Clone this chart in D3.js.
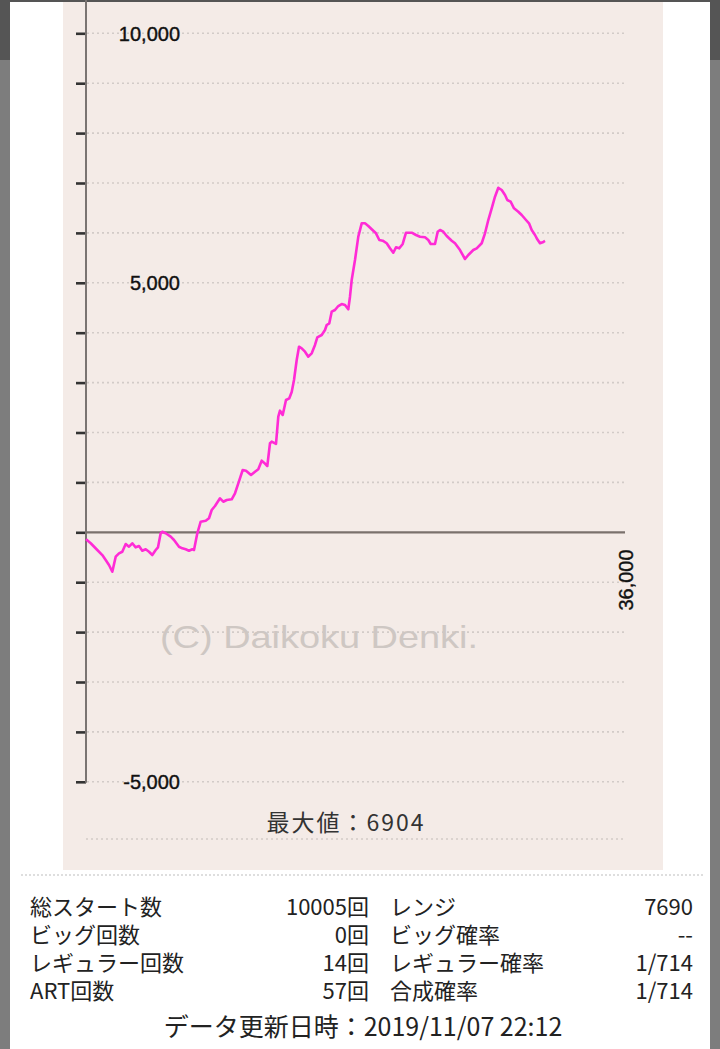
<!DOCTYPE html>
<html>
<head>
<meta charset="utf-8">
<script src="https://cdn.jsdelivr.net/npm/d3@7/dist/d3.min.js"></script>
<style>
  html, body { margin: 0; padding: 0; background: #fff; }
  svg { display: block; }
</style>
</head>
<body>
<svg id="chart" width="720" height="1049"></svg>
<script>
// ---- data ----
const xGames = [0,314,755,1089,1316,1536,1757,1984,2204,2424,2652,2872,3092,3320,3540,3760,3987,4208,4428,4655,4809,4989,5096,5323,5657,5878,6211,6432,6659,6879,7100,7213,7434,7661,7995,8215,8396,8616,8950,9170,9398,9732,9952,10172,10466,10686,11020,11288,11508,11735,11889,12109,12289,12403,12690,12844,12957,13138,13358,13579,13739,13893,14073,14227,14407,14627,14848,15075,15295,15449,15743,15963,16077,16250,16410,16631,16851,17078,17298,17519,17632,17746,17966,18187,18414,18634,18855,19082,19369,19590,19817,20084,20304,20525,20705,20926,21153,21373,21754,22041,22308,22642,22862,23023,23310,23490,23644,23864,24091,24425,24646,24980,25314,25534,25868,26095,26429,26649,26870,27097,27317,27538,27765,27986,28139,28366,28587,28874,29101,29388,29589,29769,29990,30143,30323,30504,30657];
const yMedals = [-140,-220,-355,-456,-556,-656,-790,-489,-421,-389,-234,-289,-220,-301,-275,-369,-341,-389,-455,-355,-301,-20,12,-20,-88,-154,-289,-321,-341,-369,-341,-355,-20,212,232,281,447,527,681,613,647,661,782,982,1248,1234,1148,1214,1263,1435,1395,1329,1784,1816,1770,2317,2437,2351,2651,2685,2812,3052,3453,3719,3687,3619,3519,3587,3754,3908,3954,4054,4154,4188,4421,4455,4535,4575,4555,4469,4721,5056,5457,5924,6192,6192,6138,6072,5992,5858,5844,5792,5691,5603,5711,5691,5778,6004,6004,5958,5924,5912,5858,5778,5778,6024,6058,6024,5938,5844,5792,5657,5477,5557,5657,5691,5792,5992,6258,6493,6726,6904,6860,6760,6659,6625,6493,6425,6359,6259,6192,6058,5958,5872,5792,5812,5838];
const yTickValues = [-5000,-4000,-3000,-2000,-1000,0,1000,2000,3000,4000,5000,6000,7000,8000,9000,10000];
const yLabelValues = [10000, 5000, -5000];
const xMax = 36000;
const xLabel = "36,000";
const maxLabel = "最大値：6904";
const watermark = "(C) Daikoku Denki.";
const tableRows = [
  ["総スタート数", "10005回", "レンジ", "7690"],
  ["ビッグ回数", "0回", "ビッグ確率", "--"],
  ["レギュラー回数", "14回", "レギュラー確率", "1/714"],
  ["ART回数", "57回", "合成確率", "1/714"]
];
const footer = "データ更新日時：2019/11/07 22:12";

// ---- drawing ----
const svg = d3.select("#chart");

// page frame
svg.append("rect").attr("x",0).attr("y",0).attr("width",720).attr("height",1049).attr("fill","#fff");
svg.append("rect").attr("x",0).attr("y",0).attr("width",10).attr("height",1049).attr("fill","#7d7d7d");
svg.append("rect").attr("x",0).attr("y",0).attr("width",10).attr("height",60).attr("fill","#555");
svg.append("rect").attr("x",710).attr("y",0).attr("width",10).attr("height",1049).attr("fill","#7d7d7d");
svg.append("rect").attr("x",710).attr("y",0).attr("width",10).attr("height",60).attr("fill","#555");
svg.append("rect").attr("x",0).attr("y",0).attr("width",720).attr("height",2).attr("fill","#555");

// chart panel
svg.append("rect").attr("x",63).attr("y",2).attr("width",600).attr("height",868).attr("fill","#f4ebe7");

const x = d3.scaleLinear().domain([0, xMax]).range([86, 625]);
const y = d3.scaleLinear().domain([-5000, 10000]).range([781.8, 33.3]);

const labelFont = "'Liberation Sans', Arial, sans-serif";
const cjk = "'Noto Sans CJK JP', 'Noto Sans', sans-serif";

// dotted gridlines
svg.append("g").selectAll("line")
  .data(yTickValues.filter(v => v !== 0))
  .join("line")
  .attr("x1", 87).attr("x2", x(xMax))
  .attr("y1", d => y(d)).attr("y2", d => y(d))
  .attr("stroke", "#d2cbc8").attr("stroke-width", 1.6)
  .attr("stroke-dasharray", "2,3");

// watermark
svg.append("text")
  .attr("x", 160).attr("y", 648)
  .attr("font-family", labelFont).attr("font-size", 32)
  .attr("fill", "#cec7c3")
  .attr("textLength", 318).attr("lengthAdjust", "spacingAndGlyphs")
  .text(watermark);

// y axis with ticks on the left
const yAxis = d3.axisLeft(y).tickValues(yTickValues).tickSize(10).tickFormat("");
const gy = svg.append("g").attr("transform", "translate(86,0)").call(yAxis);
gy.select(".domain").remove();
gy.selectAll(".tick line").attr("stroke", "#333").attr("stroke-width", 2.6);
svg.append("line").attr("x1", 86).attr("x2", 86).attr("y1", 0).attr("y2", y(-5000) + 1)
  .attr("stroke", "#7a7472").attr("stroke-width", 2);

// zero baseline
svg.append("line").attr("x1", 86).attr("x2", x(xMax))
  .attr("y1", y(0)).attr("y2", y(0))
  .attr("stroke", "#7a716c").attr("stroke-width", 2.2);

// y labels
const fmt = d => d3.format(",")(d).replace("\u2212", "-");
svg.append("g").selectAll("text")
  .data(yLabelValues)
  .join("text")
  .attr("x", 180).attr("y", d => y(d))
  .attr("dy", "0.36em")
  .attr("text-anchor", "end")
  .attr("font-family", labelFont).attr("font-size", 20)
  .attr("fill", "#111").attr("stroke", "#111").attr("stroke-width", 0.4)
  .text(fmt);

// x label (rotated)
svg.append("text")
  .attr("transform", `translate(${x(xMax) + 8},580) rotate(-90)`)
  .attr("text-anchor", "middle")
  .attr("font-family", labelFont).attr("font-size", 20)
  .attr("fill", "#111").attr("stroke", "#111").attr("stroke-width", 0.4)
  .text(xLabel);

// the line
const line = d3.line().x((d, i) => x(xGames[i])).y(d => y(d));
svg.append("path")
  .datum(yMedals)
  .attr("d", line)
  .attr("fill", "none")
  .attr("stroke", "#ff2bd6")
  .attr("stroke-width", 2.6)
  .attr("stroke-linejoin", "round");

// max label
svg.append("text")
  .attr("x", 346).attr("y", 823).attr("dy", "0.36em")
  .attr("text-anchor", "middle")
  .attr("font-family", cjk).attr("font-size", 23)
  .attr("letter-spacing", 2)
  .attr("fill", "#333")
  .text(maxLabel);

// dotted line under max label
svg.append("line").attr("x1", 86).attr("x2", 625).attr("y1", 839).attr("y2", 839)
  .attr("stroke", "#d2cbc8").attr("stroke-width", 1.6).attr("stroke-dasharray", "2,3");

// separator
svg.append("line").attr("x1", 21).attr("x2", 703).attr("y1", 875).attr("y2", 875)
  .attr("stroke", "#bdbdbd").attr("stroke-width", 1.2).attr("stroke-dasharray", "2,2");

// table
const rowY = d3.scalePoint().domain(d3.range(tableRows.length)).range([907, 991]);
const tg = svg.append("g").attr("font-family", cjk).attr("font-size", 22).attr("fill", "#222");
tableRows.forEach((r, i) => {
  const yy = rowY(i);
  tg.append("text").attr("x", 30).attr("y", yy).attr("dy", "0.36em").text(r[0]);
  tg.append("text").attr("x", 369).attr("y", yy).attr("dy", "0.36em").attr("text-anchor", "end").text(r[1]);
  tg.append("text").attr("x", 390).attr("y", yy).attr("dy", "0.36em").text(r[2]);
  tg.append("text").attr("x", 693).attr("y", yy).attr("dy", "0.36em").attr("text-anchor", "end").text(r[3]);
});

// footer
svg.append("text")
  .attr("x", 363).attr("y", 1027).attr("dy", "0.36em")
  .attr("text-anchor", "middle")
  .attr("font-family", cjk).attr("font-size", 25).attr("fill", "#222")
  .text(footer);
</script>
</body>
</html>
